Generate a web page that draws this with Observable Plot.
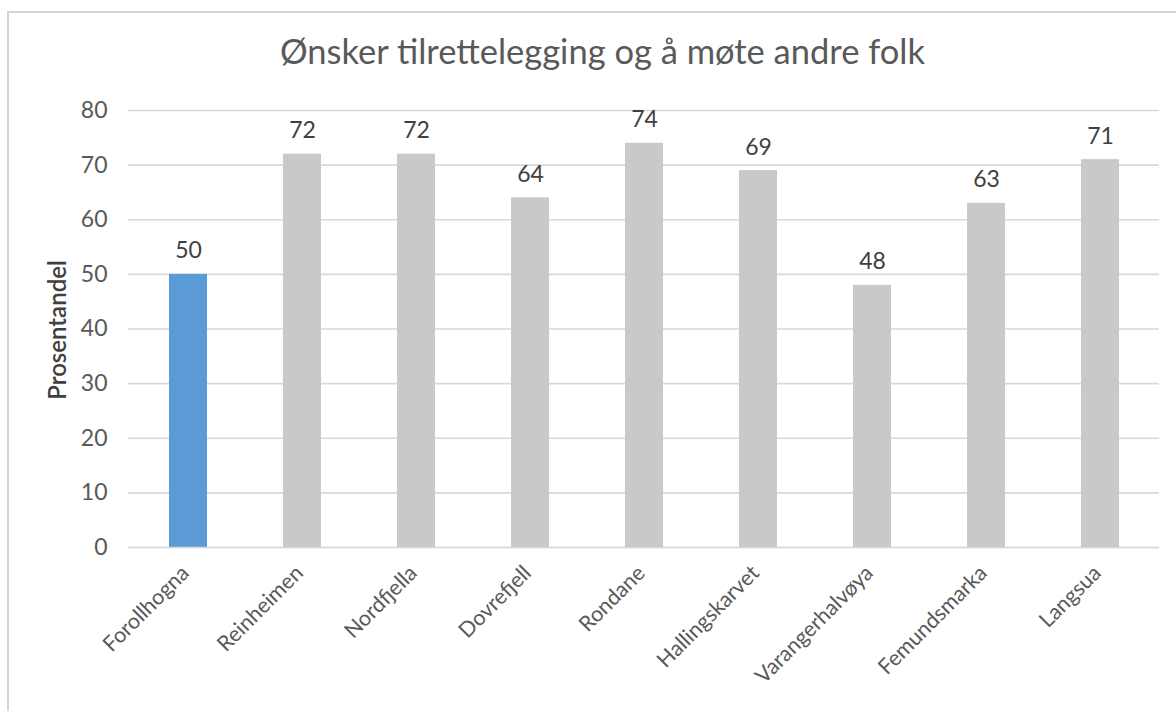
<!DOCTYPE html>
<html>
<head>
<meta charset="utf-8">
<script src="https://cdn.jsdelivr.net/npm/d3@7"></script>
<script src="https://cdn.jsdelivr.net/npm/@observablehq/plot@0.6"></script>
<style>
  html, body { margin: 0; padding: 0; background: #fff; overflow: hidden; }
  #frame { position: absolute; left: 7px; top: 11px; width: 1200px; height: 720px;
           border: 2px solid #d4d4d4; box-sizing: border-box; background: #fff; }
  #title { position: absolute; left: 0; top: 0; width: 1187px; height: 67px;
           text-align: center; font-family: Lato, "Open Sans", sans-serif; font-size: 34.5px;
           color: #595959; line-height: 1; padding-top: 21px; box-sizing: border-box; white-space: nowrap; }
  #chart { position: absolute; left: 0; top: 67px; width: 1167px; }
  #ylabel { position: absolute; left: 48px; top: 317px; width: 0; height: 0; }
  #ylabel span { position: absolute; left: 0; top: 0; transform: translate(-50%, -50%) rotate(-90deg);
                 font-family: Lato, "Open Sans", sans-serif; font-size: 24px; font-weight: 600; color: #404040;
                 white-space: nowrap; line-height: 1; }
</style>
</head>
<body>
<div id="frame">
  <div id="title">Ønsker tilrettelegging og å møte andre folk</div>
  <div id="chart"></div>
  <div id="ylabel"><span id="ylabeltext"></span></div>
</div>
<script>
const categories = ["Forollhogna", "Reinheimen", "Nordfjella", "Dovrefjell", "Rondane", "Hallingskarvet", "Varangerhalvøya", "Femundsmarka", "Langsua"];
const values = [50, 72, 72, 64, 74, 69, 48, 63, 71];
const highlight = ["Forollhogna"];
const yTicks = [0, 10, 20, 30, 40, 50, 60, 70, 80];
const yLabel = "Prosentandel";

const data = categories.map((c, i) => ({ name: c, value: values[i], hi: highlight.includes(c) }));
document.getElementById("ylabeltext").textContent = yLabel;

const font = "Lato, 'Open Sans', sans-serif";
const chart = Plot.plot({
  width: 1167,
  height: 631,
  marginLeft: 119,
  marginRight: 17,
  marginTop: 30,
  marginBottom: 164,
  style: { fontFamily: font, fontSize: "23px", color: "#595959", background: "transparent", overflow: "visible" },
  x: { domain: categories, paddingInner: 0.67, paddingOuter: 0.335, label: null },
  y: { domain: [0, 80], ticks: yTicks, label: null },
  marks: [
    Plot.gridY(yTicks, { stroke: "#d9d9d9", strokeOpacity: 1, strokeWidth: 1.6 }),
    Plot.barY(data, { x: "name", y: "value", fill: d => d.hi ? "#5b9bd5" : "#c9c9c9" }),
    Plot.ruleY([0], { stroke: "#d9d9d9", strokeWidth: 1.6 }),
    Plot.axisY({ ticks: yTicks, tickSize: 0, tickPadding: 21, label: null, fontSize: 23, fill: "#595959" }),
    Plot.axisX({ tickSize: 0, tickRotate: -45, tickPadding: 22, label: null, fontSize: 21.5, fill: "#595959", dx: -3 }),
    Plot.text(data, { x: "name", y: "value", text: d => String(d.value), dy: -16, lineAnchor: "bottom", fontSize: 23, fill: "#404040" })
  ]
});
document.getElementById("chart").appendChild(chart);
</script>
</body>
</html>
